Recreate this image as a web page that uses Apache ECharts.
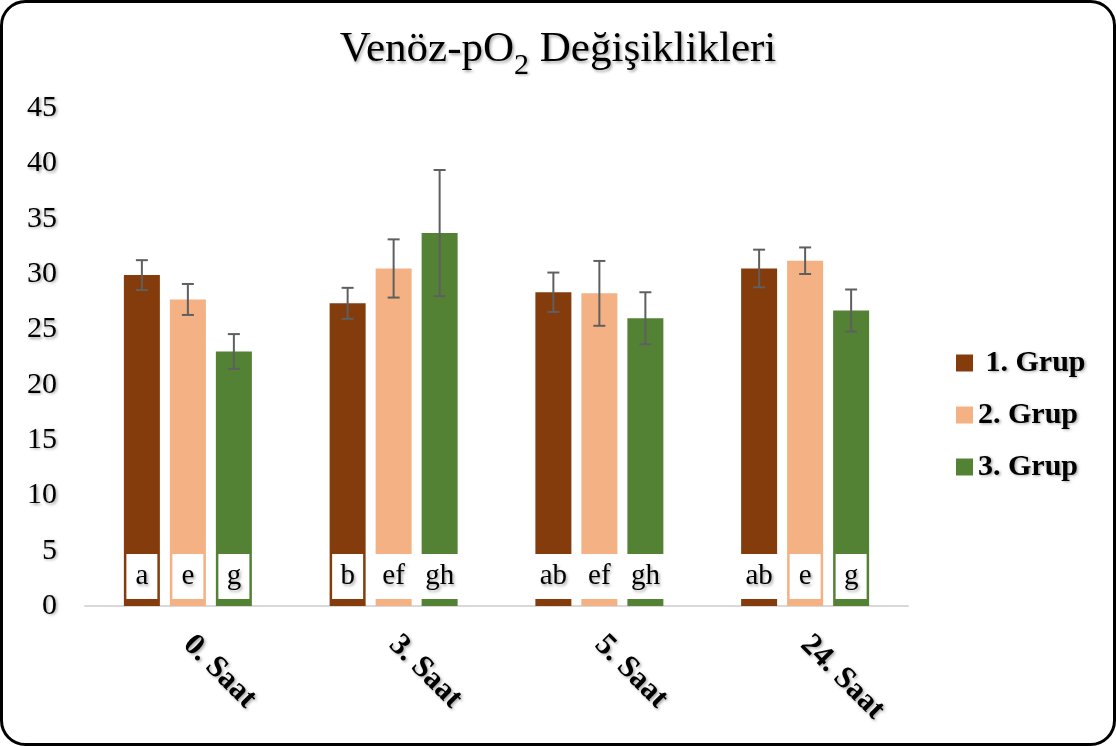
<!DOCTYPE html>
<html>
<head>
<meta charset="utf-8">
<script src="https://cdn.jsdelivr.net/npm/echarts@6/dist/echarts.min.js"></script>
<style>
  html, body { margin: 0; padding: 0; background: #fff; }
  #chart { width: 1116px; height: 746px; }
</style>
</head>
<body>
<div id="chart"></div>
<script>
// Venous pO2 by time point for three groups (mean ± SD) with significance letters
const CATEGORIES = ['0. Saat', '3. Saat', '5. Saat', '24. Saat'];
const SERIES_NAMES = ['1. Grup', '2. Grup', '3. Grup'];

const GRUP1 = [29.9, 27.35, 28.35, 30.5];
const GRUP2 = [27.7, 30.5, 28.25, 31.2];
const GRUP3 = [23.0, 33.7, 26.0, 26.7];

const ERR1 = [1.35, 1.4, 1.78, 1.7];
const ERR2 = [1.4, 2.63, 2.93, 1.2];
const ERR3 = [1.57, 5.7, 2.35, 1.9];

const LETTERS1 = ['a', 'b', 'ab', 'ab'];
const LETTERS2 = ['e', 'ef', 'ef', 'e'];
const LETTERS3 = ['g', 'gh', 'gh', 'g'];

const Y_MIN = 0, Y_MAX = 45, Y_STEP = 5;

const COLORS = ['#843C0C', '#F4B183', '#548235'];
const SERIF = '"Liberation Serif", "Times New Roman", serif';
const SHADOW = { textShadowColor: 'rgba(0,0,0,0.35)', textShadowBlur: 3, textShadowOffsetX: 1.5, textShadowOffsetY: 1.5 };

const BAR_W = 36;
const BAR_GAP = 10;

const means = [GRUP1, GRUP2, GRUP3];
const errs = [ERR1, ERR2, ERR3];
const letters = [LETTERS1, LETTERS2, LETTERS3];

function barSeries(i) {
  return {
    name: SERIES_NAMES[i],
    type: 'bar',
    barWidth: BAR_W,
    barGap: (BAR_GAP / BAR_W * 100) + '%',
    itemStyle: { color: COLORS[i] },
    z: 2,
    data: means[i].map((v, k) => ({
      value: v,
      label: { width: letters[i][k].length > 1 ? 38 : 31 }
    })),
    label: {
      show: true,
      position: 'insideBottom',
      distance: 7,
      formatter: p => letters[i][p.dataIndex],
      backgroundColor: '#fff',
      height: 45,
      lineHeight: 45,
      align: 'center',
      color: '#000',
      fontFamily: SERIF,
      fontSize: 29,
      ...SHADOW
    }
  };
}

// Whiskers drawn on top of each bar, offset to the bar's slot in the category
function errorSeries(i) {
  const offset = (i - 1) * (BAR_W + BAR_GAP);
  return {
    type: 'custom',
    name: SERIES_NAMES[i] + ' SD',
    z: 5,
    silent: true,
    data: means[i].map((v, k) => [k, v - errs[i][k], v + errs[i][k]]),
    encode: { x: 0, y: [1, 2] },
    renderItem: (params, api) => {
      const k = api.value(0);
      const x = api.coord([k, 0])[0] + offset;
      const yLo = api.coord([k, api.value(1)])[1];
      const yHi = api.coord([k, api.value(2)])[1];
      const cap = 6;
      const style = { stroke: '#5F5F5F', lineWidth: 2 };
      return {
        type: 'group',
        children: [
          { type: 'line', shape: { x1: x, y1: yLo, x2: x, y2: yHi }, style },
          { type: 'line', shape: { x1: x - cap, y1: yHi, x2: x + cap, y2: yHi }, style },
          { type: 'line', shape: { x1: x - cap, y1: yLo, x2: x + cap, y2: yLo }, style }
        ]
      };
    }
  };
}

const chart = echarts.init(document.getElementById('chart'), null, { renderer: 'canvas' });

chart.setOption({
  backgroundColor: '#fff',
  animation: false,
  title: {
    text: '{m|Venöz-pO}{s|2}{m| Değişiklikleri}',
    left: 'center',
    top: 20,
    textStyle: {
      fontWeight: 'normal',
      rich: {
        m: { fontFamily: SERIF, fontWeight: 'normal', fontSize: 43, color: '#000', lineHeight: 50, ...SHADOW },
        s: { fontFamily: SERIF, fontWeight: 'normal', fontSize: 30, color: '#000', lineHeight: 30, verticalAlign: 'bottom', padding: [0, 0, -6, 0], ...SHADOW }
      }
    }
  },
  legend: {
    orient: 'vertical',
    left: 951,
    top: 343,
    itemWidth: 17,
    itemHeight: 17,
    itemGap: 22,
    icon: 'rect',
    data: SERIES_NAMES,
    formatter: name => (name === SERIES_NAMES[0] ? ' ' + name : name),
    textStyle: {
      fontFamily: SERIF,
      fontWeight: 'bold',
      fontSize: 30,
      lineHeight: 30,
      color: '#000',
      ...SHADOW
    }
  },
  grid: { left: 85, right: 208, top: 108, bottom: 140, containLabel: false },
  xAxis: {
    type: 'category',
    data: CATEGORIES,
    axisLine: { lineStyle: { color: '#D9D9D9', width: 2 } },
    axisTick: { show: false },
    axisLabel: {
      rotate: -45,
      margin: 34,
      fontFamily: SERIF,
      fontWeight: 'bold',
      fontSize: 31,
      color: '#000',
      ...SHADOW
    }
  },
  yAxis: {
    type: 'value',
    min: Y_MIN,
    max: Y_MAX,
    interval: Y_STEP,
    axisLine: { show: false },
    axisTick: { show: false },
    splitLine: { show: false },
    axisLabel: {
      margin: 28,
      fontFamily: SERIF,
      fontSize: 30,
      color: '#000',
      ...SHADOW
    }
  },
  series: [0, 1, 2].map(barSeries).concat([0, 1, 2].map(errorSeries)),
  graphic: [{
    type: 'rect',
    silent: true,
    z: 100,
    shape: { x: 1.5, y: 1.5, width: 1113, height: 743, r: 24 },
    style: { fill: null, stroke: '#000', lineWidth: 3 }
  }]
});
</script>
</body>
</html>
